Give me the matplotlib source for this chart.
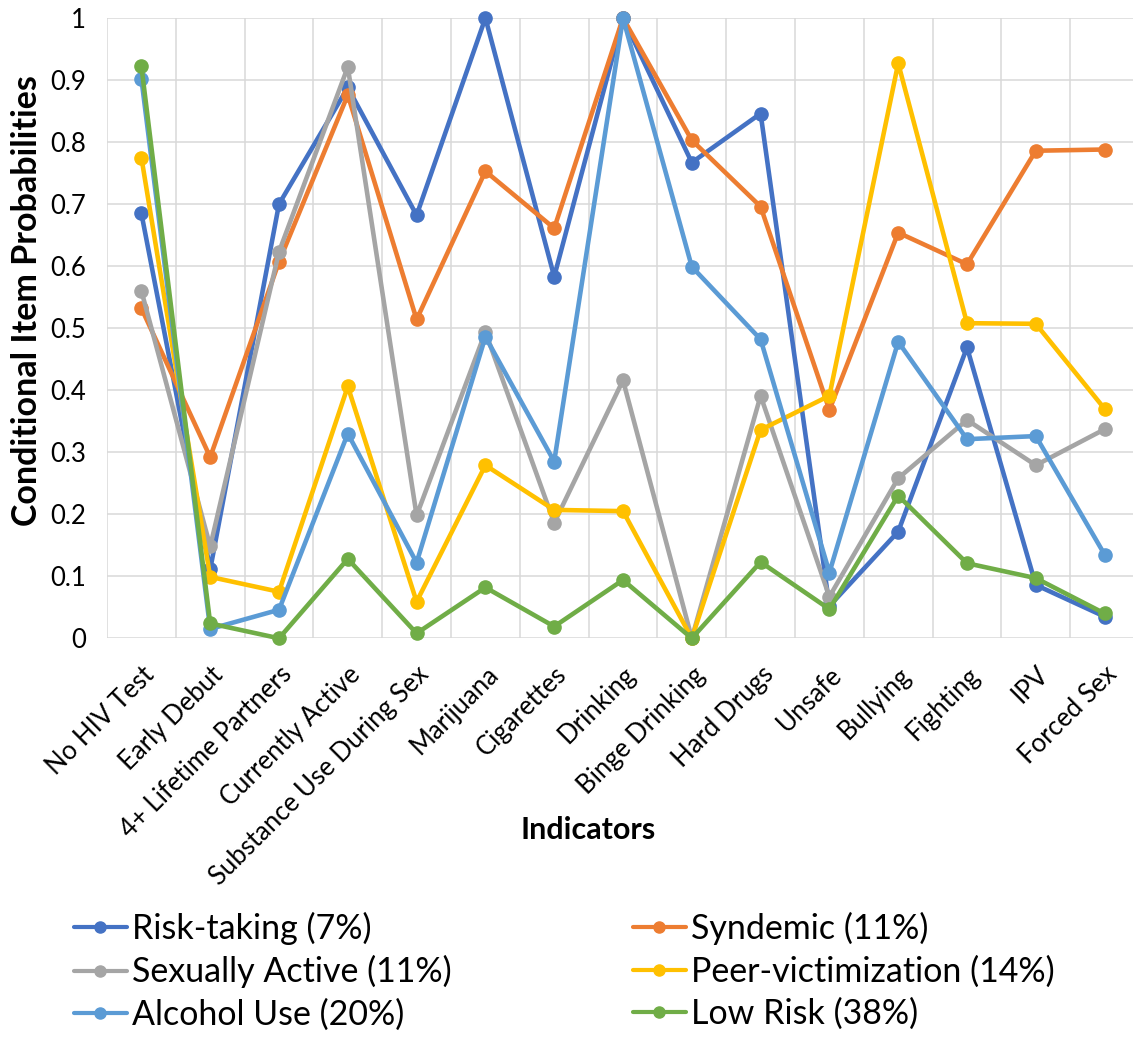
import numpy as np
import matplotlib
matplotlib.use("Agg")
import matplotlib.pyplot as plt
from matplotlib.lines import Line2D

plt.rcParams['font.family'] = ['Lato', 'DejaVu Sans']

# indicators on the x axis
indicators = ["No HIV Test", "Early Debut", "4+ Lifetime Partners", "Currently Active",
              "Substance Use During Sex", "Marijuana", "Cigarettes", "Drinking",
              "Binge Drinking", "Hard Drugs", "Unsafe", "Bullying", "Fighting",
              "IPV", "Forced Sex"]

# conditional item probabilities per latent class
risk_taking = [0.685, 0.111, 0.700, 0.888, 0.682, 1.000, 0.583, 1.000, 0.767, 0.846,
               0.052, 0.172, 0.469, 0.086, 0.035]
syndemic = [0.532, 0.292, 0.607, 0.876, 0.514, 0.753, 0.661, 1.000, 0.803, 0.696,
            0.368, 0.654, 0.603, 0.786, 0.788]
sexually_active = [0.560, 0.148, 0.623, 0.921, 0.198, 0.494, 0.186, 0.416, 0.0, 0.391,
                   0.067, 0.258, 0.352, 0.279, 0.337]
peer_victim = [0.775, 0.099, 0.075, 0.406, 0.059, 0.279, 0.207, 0.205, 0.0, 0.336,
               0.391, 0.927, 0.508, 0.507, 0.370]
alcohol_use = [0.902, 0.015, 0.046, 0.330, 0.122, 0.486, 0.285, 1.000, 0.599, 0.482,
               0.106, 0.478, 0.321, 0.326, 0.135]
low_risk = [0.922, 0.024, 0.0, 0.128, 0.008, 0.082, 0.019, 0.094, 0.0, 0.123,
            0.047, 0.230, 0.121, 0.097, 0.040]

series = [
    ("Risk-taking (7%)", risk_taking, "#4472C4"),
    ("Syndemic (11%)", syndemic, "#ED7D31"),
    ("Sexually Active (11%)", sexually_active, "#A5A5A5"),
    ("Peer-victimization (14%)", peer_victim, "#FFC000"),
    ("Alcohol Use (20%)", alcohol_use, "#5B9BD5"),
    ("Low Risk (38%)", low_risk, "#70AD47"),
]

W, H = 1133, 1041
fig = plt.figure(figsize=(W / 100, H / 100), dpi=100)
ax = fig.add_axes([107 / W, 1 - 638.3 / H, (1139 - 107) / W, (638.3 - 18) / H])

x = np.arange(len(indicators))
for label, vals, col in series:
    ax.plot(x, vals, color=col, lw=3.3, marker="o", ms=9.5, label=label,
            solid_capstyle="round", solid_joinstyle="round", clip_on=False, zorder=3)

ax.set_xlim(-0.5, len(indicators) - 0.5)
ax.set_ylim(0, 1)
ax.set_yticks(np.arange(0, 1.01, 0.1))
ax.set_yticklabels(["0"] + [f"{v:.1f}" for v in np.arange(0.1, 0.95, 0.1)] + ["1"])
ax.set_xticks(x)
ax.set_xticklabels(indicators, rotation=45, ha="right", rotation_mode="anchor")
ax.set_xticks(np.arange(-0.5, len(indicators), 1), minor=True)
ax.grid(True, which="major", axis="y", color="#D9D9D9", lw=1.1)
ax.grid(True, which="minor", axis="x", color="#D9D9D9", lw=1.1)
ax.tick_params(axis="both", which="both", length=0, labelsize=18.5, labelcolor="#000000")
ax.tick_params(axis="y", pad=15)
ax.tick_params(axis="x", pad=17)
for s in ax.spines.values():
    s.set_visible(False)

fig.text(27 / W, 1 - 301 / H, "Conditional Item Probabilities", fontsize=24.5,
         fontweight="bold", rotation=90, ha="center", va="center")
fig.text(588 / W, 1 - 830 / H, "Indicators", fontsize=22, fontweight="bold",
         ha="center", va="center")

# legend proxies, slightly lighter than the plotted lines
proxies = [Line2D([], [], color=c, lw=3.0, marker="o", ms=8, solid_capstyle="round")
           for _, _, c in series]
order_left = [0, 2, 4]
order_right = [1, 3, 5]
leg_kw = dict(frameon=False, fontsize=24.5, handlelength=1.55, handletextpad=0.15,
              labelspacing=0.3, borderaxespad=0, borderpad=0, loc="upper left")
fig.legend([proxies[i] for i in order_left], [series[i][0] for i in order_left],
           bbox_to_anchor=(74 / W, 1 - 912 / H), **leg_kw)
fig.legend([proxies[i] for i in order_right], [series[i][0] for i in order_right],
           bbox_to_anchor=(633 / W, 1 - 912 / H), **leg_kw)

fig.savefig("out.png", dpi=100)
